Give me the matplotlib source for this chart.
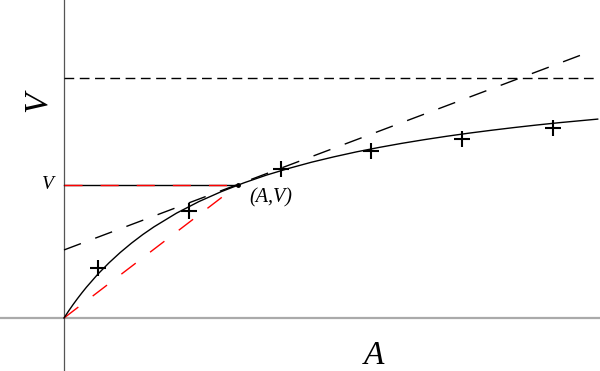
import matplotlib.pyplot as plt

# curve values (A, V)
curve_a = [0, 0.05, 0.1, 0.15, 0.2, 0.25, 0.375, 0.5, 0.625, 0.75, 0.875, 1.0, 1.25, 1.5,
           1.75, 2.0, 2.25, 2.5, 2.75, 3.0, 3.25, 3.5, 3.75, 4.0, 4.25, 4.5, 4.75, 5.0,
           5.25, 5.5, 5.93]
curve_v = [0, 0.076, 0.148, 0.216, 0.281, 0.343, 0.486, 0.613, 0.728, 0.832, 0.927, 1.013,
           1.165, 1.294, 1.405, 1.502, 1.588, 1.663, 1.731, 1.791, 1.846, 1.895, 1.940,
           1.981, 2.019, 2.054, 2.086, 2.116, 2.144, 2.170, 2.210]

# measured points
obs_a = [0.381, 1.392, 2.408, 3.411, 4.422, 5.437]
obs_v = [0.559, 1.189, 1.652, 1.856, 1.989, 2.114]

# the chosen point (A, V), the asymptote and the tangent line
pt_a, pt_v = 1.933, 1.478
vmax = 2.667
tan_a = [0, 5.83]
tan_v = [0.756, 2.954]

fig = plt.figure(figsize=(6, 3.71), dpi=100)
ax = fig.add_axes([0, 0, 1, 1])
ax.set_xlim(-64 / 90, 536 / 90)
ax.set_ylim(-53 / 90, 318 / 90)
ax.axis('off')

# axes lines
ax.axhline(0, color='#aaaaaa', lw=1.6, zorder=1)
ax.axvline(0, color='#555555', lw=0.9, zorder=1)

ax.plot([0, 5.92], [vmax, vmax], color='black', lw=1, dashes=(7, 4))
ax.plot(tan_a, tan_v, color='black', lw=1, dashes=(13, 11))
ax.plot([0, pt_a], [pt_v, pt_v], color='black', lw=1)
ax.plot([0, pt_a], [pt_v, pt_v], color='red', lw=1, dashes=(13, 13))
ax.plot([0, pt_a], [0, pt_v], color='red', lw=1, dashes=(13, 13))
ax.plot(curve_a, curve_v, color='black', lw=1)
ax.plot([pt_a], [pt_v], 'o', color='black', ms=2.5)
ax.plot(obs_a, obs_v, '+', color='black', ms=11, mew=1.5)

serif = 'Liberation Serif'
ax.text(-0.18, pt_v, 'V', family=serif, style='italic', fontsize=14, ha='center', va='center')
ax.text(pt_a + 0.13, pt_v - 0.14, '(A,V)', family=serif, style='italic', fontsize=14.5,
        ha='left', va='center')
ax.text(-0.3, 2.4, 'V', family=serif, style='italic', fontsize=24, rotation=90, ha='center', va='center')
ax.text(3.45, -0.42, 'A', family=serif, style='italic', fontsize=24, ha='center', va='center')

plt.savefig('out.png', dpi=100)
